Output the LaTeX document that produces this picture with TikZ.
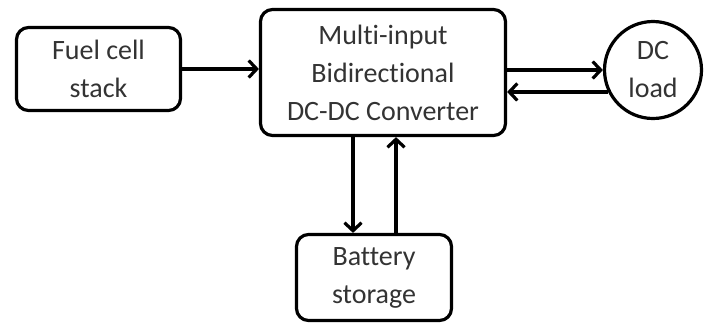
\documentclass[tikz,border=0pt]{standalone}
\usepackage{fontspec}
\setmainfont{Carlito}[Ligatures=NoCommon]
\usetikzlibrary{arrows.meta}
\begin{document}
\begin{tikzpicture}[x=1pt, y=-1pt, line width=3.2pt, >={Straight Barb[length=8pt,width=17pt]},
        blok/.style={draw, rounded corners=12pt, align=center, inner sep=0pt, text=black!80,
            font=\fontsize{28}{38}\selectfont},
        beban/.style={draw, circle, align=center, inner sep=0pt, minimum size=97pt, text=black!80,
            font=\fontsize{28}{38}\selectfont}]
        \useasboundingbox (0,0) rectangle (708,325);
        
        % Fuel cell stack
        \node[blok, minimum width=164pt, minimum height=83pt] (fuel) at (98.5,69) {Fuel cell\\stack};
        
        % Converter
        \node[blok, minimum width=245pt, minimum height=126pt] (conv) at (383,72.5) {Multi-input\\Bidirectional\\DC-DC Converter};
        
        % DC load
        \node[beban] (load) at (653,70) {DC\\load};
        
        % Battery storage
        \node[blok, minimum width=155pt, minimum height=86pt] (batt) at (374,277.5) {Battery\\storage};
        
        % Panah
        \draw[->] (fuel.east) -- (conv.west |- fuel.east);
        \draw[->] (conv.east |- load.west) -- (load.west);
        \draw[->] (load.206) -- (conv.east |- load.206);
        \draw[->] (conv.south -| 353,0) -- (batt.north -| 353,0);
        \draw[->] (batt.north -| 396,0) -- (conv.south -| 396,0);
    \end{tikzpicture}
\end{document}
